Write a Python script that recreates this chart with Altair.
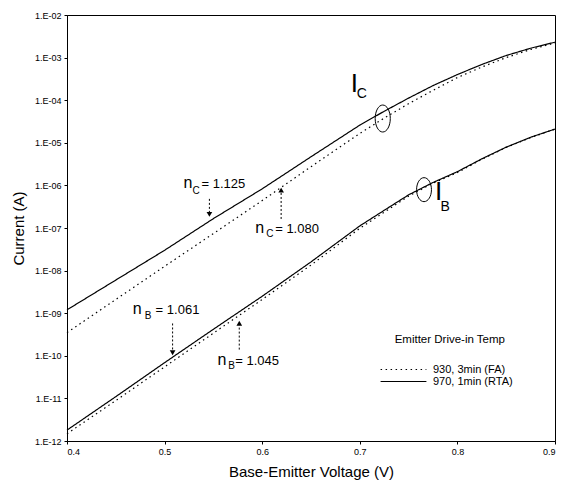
import altair as alt
import pandas as pd

# ---- data ----
V_GRID = [0.40, 0.45, 0.50, 0.55, 0.60, 0.65, 0.70, 0.725, 0.75, 0.775, 0.80, 0.825, 0.85, 0.875, 0.90]
IC_FA = [3.5e-10, 2.1e-9, 1.26e-8, 7.4e-8, 4.4e-7, 2.75e-6, 1.66e-5, 3.8e-5, 8.3e-5, 1.7e-4, 3.4e-4, 6.0e-4, 1.0e-3, 1.55e-3, 2.2e-3]
IC_RTA = [1.2e-9, 6.0e-9, 3.0e-8, 1.66e-7, 8.3e-7, 4.7e-6, 2.6e-5, 5.5e-5, 1.12e-4, 2.2e-4, 4.0e-4, 6.9e-4, 1.12e-3, 1.66e-3, 2.3e-3]
IB_FA = [1.48e-12, 8.9e-12, 5.5e-11, 3.4e-10, 2.1e-9, 1.35e-8, 9.8e-8, 2.35e-7, 5.6e-7, 1.13e-6, 2.0e-6, 4.1e-6, 7.8e-6, 1.32e-5, 2.1e-5]
IB_RTA = [1.8e-12, 1.1e-11, 6.9e-11, 4.2e-10, 2.5e-9, 1.6e-8, 1.12e-7, 2.6e-7, 6.0e-7, 1.17e-6, 2.1e-6, 4.2e-6, 7.9e-6, 1.35e-5, 2.1e-5]
SERIES = ["930, 3min (FA)", "970, 1min (RTA)"]
LEGEND_TITLE = "Emitter Drive-in Temp"
X_TICKS = [0.4, 0.5, 0.6, 0.7, 0.8, 0.9]
Y_TICKS = [1e-12, 1e-11, 1e-10, 1e-9, 1e-8, 1e-7, 1e-6, 1e-5, 1e-4, 1e-3, 1e-2]

# annotations (voltage, log10 current)
CURVE_LETTER_TEXT = ["I", "I"]
CURVE_LETTER_V = [0.6908, 0.7771]
CURVE_LETTER_LOG = [-3.816, -6.342]
CURVE_SUB_TEXT = ["C", "B"]
CURVE_SUB_V = [0.6969, 0.7827]
CURVE_SUB_LOG = [-3.958, -6.599]
ELLIPSE_V = [0.7235, 0.7658]
ELLIPSE_LOG = [-4.43, -6.10]

N_V = [0.5194, 0.5929, 0.4674, 0.5541]
N_LOG = [-6.057, -7.118, -9.028, -10.22]
N_SUB_TEXT = ["C", "C", "B", "B"]
N_SUB_V = [0.5286, 0.6041, 0.4796, 0.5653]
N_SUB_LOG = [-6.198, -7.212, -9.146, -10.302]
N_VAL_TEXT = ["= 1.125", "= 1.080", "= 1.061", "= 1.045"]
N_VAL_V = [0.5378, 0.6133, 0.4908, 0.5724]

ARROW_V = [0.5459, 0.6194, 0.5082, 0.5765]
ARROW_TAIL_LOG = [-6.316, -6.788, -9.241, -9.854]
ARROW_END_LOG = [-6.646, -6.175, -9.877, -9.288]
ARROW_HEAD_LOG = [-6.68, -6.11, -9.93, -9.235]
ARROW_DIR = ["down", "up", "down", "up"]

LEGEND_TITLE_V = [0.7357]
LEGEND_TITLE_LOG = [-9.71]

FONT = "Liberation Sans"

rows = []
for curve, fa, rta in [("IC", IC_FA, IC_RTA), ("IB", IB_FA, IB_RTA)]:
    for v, a, b in zip(V_GRID, fa, rta):
        rows.append({"V": v, "I": a, "series": SERIES[0], "curve": curve})
        rows.append({"V": v, "I": b, "series": SERIES[1], "curve": curve})
df = pd.DataFrame(rows)

ylabel = ("'1.E-' + (round(-log(datum.value)/LN10) < 10 ? '0' : '') + "
          "round(-log(datum.value)/LN10)")

X = alt.X("V:Q", scale=alt.Scale(domain=[0.4, 0.9], nice=False, zero=False),
          axis=alt.Axis(values=X_TICKS, format=".1f", title="Base-Emitter Voltage (V)",
                        grid=False, tickSize=3, labelPadding=3, labelFontSize=9,
                        titleFontSize=15, titleFontWeight="normal", titlePadding=8,
                        labelFont=FONT, titleFont=FONT))
Y = alt.Y("I:Q", scale=alt.Scale(type="log", domain=[1e-12, 1e-2], nice=False),
          axis=alt.Axis(values=Y_TICKS, labelExpr=ylabel, title="Current (A)",
                        grid=False, tickSize=3, labelPadding=3, labelFontSize=9,
                        titleFontSize=15, titleFontWeight="normal", titlePadding=8,
                        labelFont=FONT, titleFont=FONT))

lines = alt.Chart(df).mark_line(color="black", strokeWidth=1.2).encode(
    x=X, y=Y,
    strokeDash=alt.StrokeDash(
        "series:N",
        scale=alt.Scale(domain=SERIES, range=[[1.5, 3.5], [1, 0]]),
        legend=alt.Legend(orient="none", legendX=313, legendY=349, title=None,
                          labelFontSize=11, labelFont=FONT,
                          labelOffset=6, symbolType="stroke", symbolSize=2100,
                          symbolStrokeColor="black", symbolStrokeWidth=1.1,
                          clipHeight=11, rowPadding=0, padding=0),
    ),
    detail="curve:N",
)


def pts(vs, logs, texts=None):
    d = {"V": vs, "I": [10 ** l for l in logs]}
    if texts is not None:
        d["t"] = texts
    return pd.DataFrame(d)


def text_layer(data, size):
    return alt.Chart(data).mark_text(align="left", baseline="alphabetic", fontSize=size,
                                     font=FONT, color="black").encode(x=X, y=Y, text="t:N")


big_i = text_layer(pts(CURVE_LETTER_V, CURVE_LETTER_LOG, CURVE_LETTER_TEXT), 26)
big_sub = text_layer(pts(CURVE_SUB_V, CURVE_SUB_LOG, CURVE_SUB_TEXT), 14)
n_txt = text_layer(pts(N_V, N_LOG, ["n"] * 4), 16)
n_sub = text_layer(pts(N_SUB_V, N_SUB_LOG, N_SUB_TEXT), 10)
n_val = text_layer(pts(N_VAL_V, N_LOG, N_VAL_TEXT), 13)
leg_title = text_layer(pts(LEGEND_TITLE_V, LEGEND_TITLE_LOG, [LEGEND_TITLE]), 11.5)

ell_c = alt.Chart(pts(ELLIPSE_V[:1], ELLIPSE_LOG[:1])).mark_point(
    shape="M0,-1 A0.56,1 0 1,1 0,1 A0.56,1 0 1,1 0,-1 Z", size=729, filled=False,
    stroke="black", strokeWidth=1, opacity=1).encode(x=X, y=Y)
ell_b = alt.Chart(pts(ELLIPSE_V[1:], ELLIPSE_LOG[1:])).mark_point(
    shape="M0,-1 A0.62,1 0 1,1 0,1 A0.62,1 0 1,1 0,-1 Z", size=576, filled=False,
    stroke="black", strokeWidth=1, opacity=1).encode(x=X, y=Y)

arr_df = pd.DataFrame({"V": ARROW_V,
                       "I": [10 ** l for l in ARROW_TAIL_LOG],
                       "I2": [10 ** l for l in ARROW_END_LOG]})
arrows = alt.Chart(arr_df).mark_rule(color="black", strokeWidth=1, strokeDash=[2, 2]).encode(
    x=X, y=Y, y2="I2:Q")

heads_down = alt.Chart(pts([v for v, d in zip(ARROW_V, ARROW_DIR) if d == "down"],
                           [l for l, d in zip(ARROW_HEAD_LOG, ARROW_DIR) if d == "down"])).mark_point(
    shape="triangle-down", size=32, filled=True, color="black", opacity=1).encode(x=X, y=Y)
heads_up = alt.Chart(pts([v for v, d in zip(ARROW_V, ARROW_DIR) if d == "up"],
                         [l for l, d in zip(ARROW_HEAD_LOG, ARROW_DIR) if d == "up"])).mark_point(
    shape="triangle-up", size=32, filled=True, color="black", opacity=1).encode(x=X, y=Y)

chart = alt.layer(lines, arrows, heads_down, heads_up, ell_c, ell_b,
                  big_i, big_sub, n_txt, n_sub, n_val, leg_title).properties(
    width=488, height=426,
    autosize=alt.AutoSizeParams(type="none"),
    padding={"left": 59, "top": 7, "right": 1, "bottom": 39},
    background="white",
).configure_view(stroke="black", strokeWidth=1).configure_axis(
    domainColor="black", tickColor="black", labelColor="black", titleColor="black"
).configure_legend(labelColor="black", titleColor="black")

chart.save("out.html", embed_options={"renderer": "svg", "actions": False})
